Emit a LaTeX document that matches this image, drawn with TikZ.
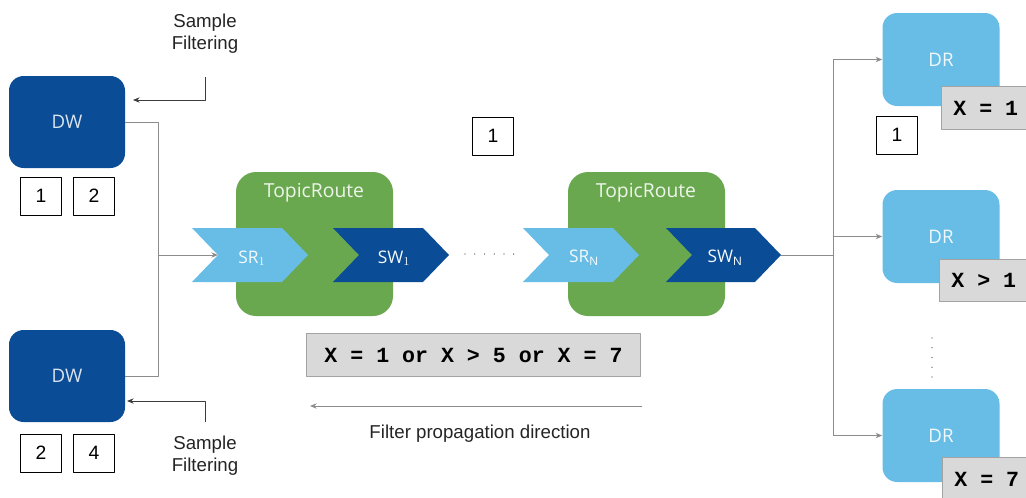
\documentclass[tikz,border=0pt]{standalone}
\usepackage{fontspec}
\setmainfont{Liberation Sans}
\setmonofont{Liberation Mono}
\newfontfamily\boxfont{Open Sans}
\usetikzlibrary{positioning, arrows.meta}

\definecolor{dwblue}{RGB}{11,76,150}
\definecolor{drblue}{RGB}{103,189,230}
\definecolor{trgreen}{RGB}{106,168,79}
\definecolor{fgray}{RGB}{217,217,217}
\definecolor{lgray}{RGB}{140,140,140}
\definecolor{kgray}{RGB}{60,60,60}

\tikzset{
	dwbox/.style={fill=dwblue, rounded corners=11pt, minimum width=87pt, minimum height=69pt, text=white!85!dwblue, font=\boxfont\fontsize{14}{16}\selectfont},
	drbox/.style={fill=drblue, rounded corners=11pt, minimum width=87.75pt, minimum height=69.75pt, text=white!90!drblue, font=\boxfont\fontsize{14}{16}\selectfont},
	trbox/.style={fill=trgreen, rounded corners=15pt, minimum width=117.75pt, minimum height=108pt},
	trlabel/.style={text=white!88!trgreen, font=\boxfont\fontsize{14.5}{16}\selectfont},
	chevtext/.style={text=white!92!drblue, font=\boxfont\fontsize{13}{15}\selectfont},
	numbox/.style={draw=black, line width=0.6pt, minimum width=30.75pt, minimum height=28.5pt, inner sep=0pt, font=\fontsize{14.5}{16}\selectfont},
	filterbox/.style={draw=lgray!80, fill=fgray, line width=0.6pt, minimum height=32pt, inner xsep=9pt, font=\ttfamily\bfseries\fontsize{16.2}{18}\selectfont},
	note/.style={align=center, font=\fontsize{14}{16.5}\selectfont, text=kgray!60!black},
	gline/.style={draw=lgray, line width=0.7pt},
	kline/.style={draw=kgray, line width=0.6pt}
}

\begin{document}
\begin{tikzpicture}[x=0.75pt, y=-0.75pt, line join=round, >={Stealth[length=5pt, width=4pt]}]
	\useasboundingbox (0,0) rectangle (1026,497);
	
	% Hai khối DW bên trái
	\node[dwbox] (dw1) at (67,122) {DW};
	\node[dwbox] (dw2) at (67,376) {DW};
	\node[numbox] (n11) at (41,196) {1};
	\node[numbox] (n12) at (94,196) {2};
	\node[numbox] (n21) at (41,453) {2};
	\node[numbox] (n22) at (94,453) {4};
	
	% Sample Filtering
	\node[note] (sf1) at (205,34) {Sample\\Filtering};
	\node[note] (sf2) at (205,456) {Sample\\Filtering};
	\coordinate (sfa1) at (205,77);
	\coordinate (sfb1) at (133,100);
	\coordinate (sfa2) at (205,422);
	\coordinate (sfb2) at (127,401);
	\draw[kline, ->] (sfa1) |- (sfb1);
	\draw[kline, ->] (sfa2) |- (sfb2);
	
	% Hai khối TopicRoute
	\node[trbox] (tr1) at (314.5,244) {};
	\node[trbox] (tr2) at (646.5,244) {};
	\node[trlabel] (tl1) at (314,193) {TopicRoute};
	\node[trlabel] (tl2) at (646,193) {TopicRoute};
	
	% Các mũi tên SR, SW
	\fill[drblue] (192,228) -- (282,228) -- (308,255) -- (282,282) -- (192,282) -- (218,255) -- cycle;
	\fill[dwblue] (333,228) -- (423,228) -- (449,255) -- (423,282) -- (333,282) -- (359,255) -- cycle;
	\fill[drblue] (523,228) -- (613,228) -- (639,255) -- (613,282) -- (523,282) -- (549,255) -- cycle;
	\fill[dwblue] (666,228) -- (755,228) -- (781,255) -- (755,282) -- (666,282) -- (692,255) -- cycle;
	\node[chevtext] (sr1) at (252,258) {SR$_{\scriptstyle 1}$};
	\node[chevtext] (sw1) at (394,258) {SW$_{\scriptstyle 1}$};
	\node[chevtext] (srn) at (584,258) {SR$_{\scriptstyle\mathrm{N}}$};
	\node[chevtext] (swn) at (725,258) {SW$_{\scriptstyle\mathrm{N}}$};
	\coordinate (sr1in) at (218,255);
	\coordinate (swnout) at (781,255);
	\draw[kgray, line width=1pt, line cap=round, dash pattern=on 0pt off 7.3pt] (465,254) -- (515,254);
	
	% Nối DW vào SR1
	\coordinate (jl) at (158,255);
	\draw[gline] (dw1.east) -| (jl);
	\draw[gline] (dw2.east) -| (jl);
	\draw[gline, ->] (jl) -- (sr1in);
	
	% Các khối DR bên phải
	\node[drbox] (dr1) at (941,59.5) {DR};
	\node[drbox] (dr2) at (941,236.5) {DR};
	\node[drbox] (dr3) at (941,435.5) {DR};
	\node[filterbox, anchor=west] (f1) at (941,108) {X = 1};
	\node[filterbox, anchor=west] (f2) at (939,280.5) {X > 1};
	\node[filterbox, anchor=west] (f3) at (942,479) {X = 7};
	\node[numbox] (n31) at (897,135) {1};
	\draw[kgray, line width=1pt, line cap=round, dash pattern=on 0pt off 7.3pt] (932,338) -- (932,378);
	
	% Nối SWN tới các DR
	\coordinate (rb) at (833,255);
	\draw[gline] (swnout) -- (rb);
	\draw[gline] (rb |- dr1.west) -- (rb |- dr3.west);
	\draw[gline, ->] (rb |- dr1.west) -- (dr1.west);
	\draw[gline, ->] (rb |- dr2.west) -- (dr2.west);
	\draw[gline, ->] (rb |- dr3.west) -- (dr3.west);
	
	% Bộ lọc và hướng lan truyền
	\node[numbox] (n0) at (493,136) {1};
	\node[filterbox, minimum width=250pt] (fall) at (473.5,355) {X = 1 or X > 5 or X = 7};
	\coordinate (pa) at (642,406);
	\coordinate (pb) at (310,406);
	\draw[gline, ->] (pa) -- (pb);
	\node[note] (pd) at (480,434) {Filter propagation direction};
	
\end{tikzpicture}
\end{document}
